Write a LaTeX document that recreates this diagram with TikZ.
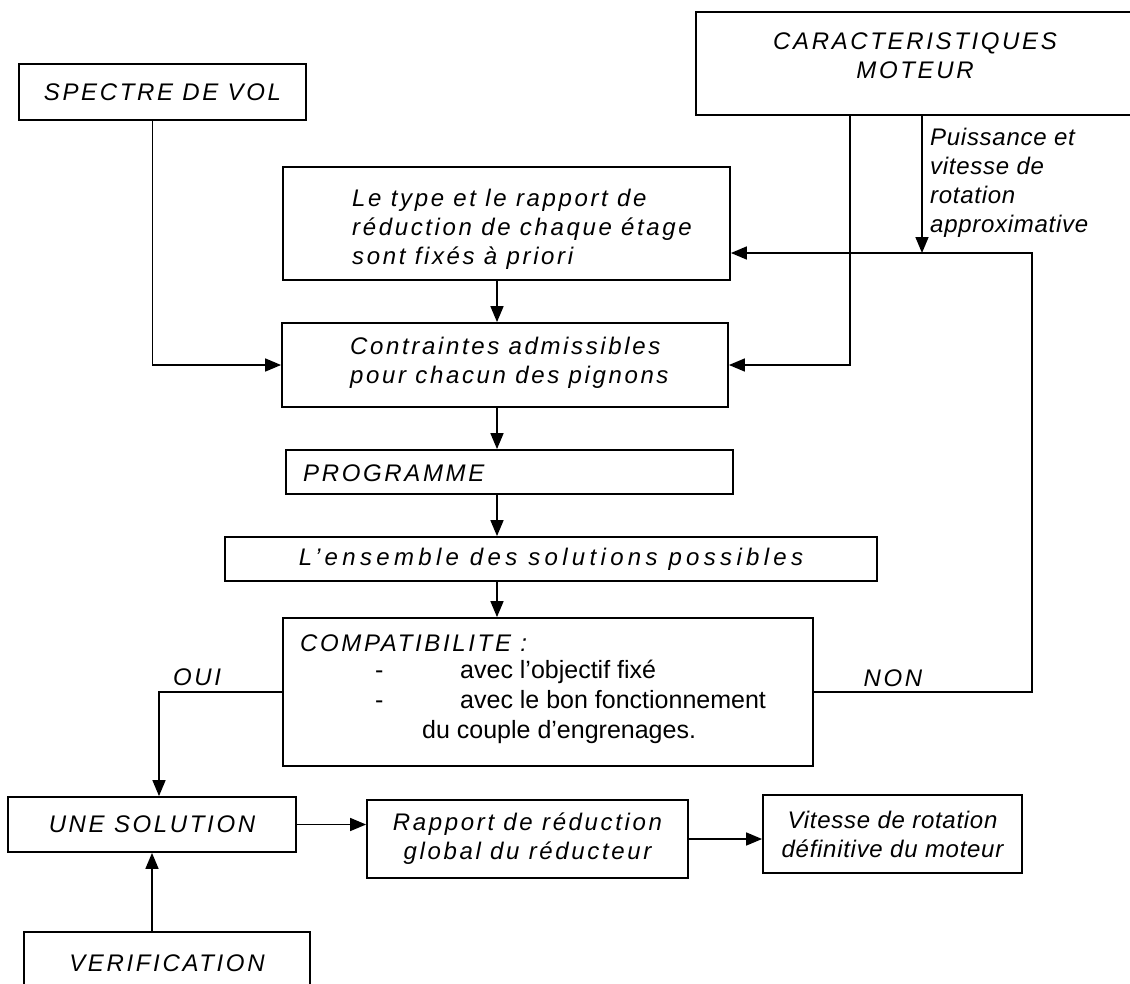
\documentclass[tikz,border=0pt]{standalone}
\usepackage{fontspec}
\setmainfont{Liberation Sans}
\newfontfamily\espace{Liberation Sans}[LetterSpace=11]
\newfontfamily\espacelarge{Liberation Sans}[LetterSpace=18]
\newfontfamily\espacepeu{Liberation Sans}[LetterSpace=3]
\usetikzlibrary{arrows.meta}

\begin{document}
\begin{tikzpicture}[x=1pt, y=-1pt,
  boite/.style={draw, line width=1.8pt, rectangle, inner sep=0pt},
  txt/.style={font=\espace\itshape\fontsize{24}{29}\selectfont, inner sep=0pt, align=center},
  txtpeu/.style={font=\espacepeu\itshape\fontsize{24}{29}\selectfont, inner sep=0pt, align=center},
  droit/.style={font=\fontsize{25}{29}\selectfont, inner sep=0pt},
  trait/.style={line width=1.6pt},
  fleche/.style={trait, -{Triangle[length=16pt, width=13pt]}}]
\useasboundingbox (0,0) rectangle (1130,983);

% --- colonnes des liaisons ---
\coordinate (axe) at (497,0);       % fleches centrales
\coordinate (descente) at (850,0);  % caracteristiques -> contraintes
\coordinate (puissance) at (922,0); % puissance et vitesse
\coordinate (retour) at (1032,0);   % boucle NON
\coordinate (niveau) at (0,253);    % entree dans "Le type"

% --- donnees d'entree ---
\node[boite, txt, minimum width=287, minimum height=56] (spectre) at (162.5,92) {SPECTRE DE VOL};
\node[boite, minimum width=438, minimum height=103] (moteur) at (915,63.5) {};
\node[txt] (moteur-t) at (915,56) {CARACTERISTIQUES\\MOTEUR};

% --- chaine centrale ---
\node[boite, minimum width=447, minimum height=113] (letype) at (506.5,223.5) {};
\node[txt, align=left, anchor=west] (letype-t) at (352,229)
  {Le type et le rapport de\\r\'eduction de chaque \'etage\\sont fix\'es \`a priori};
\node[boite, minimum width=446, minimum height=84] (contraintes) at (505,365) {};
\node[txt, align=left, anchor=west] (contraintes-t) at (350,363)
  {Contraintes admissibles\\pour chacun des pignons};
\node[boite, minimum width=447, minimum height=44] (programme) at (509.5,472) {};
\node[txt, anchor=west] (programme-t) at (303,473) {PROGRAMME};
\node[boite, font=\espacelarge\itshape\fontsize{24}{29}\selectfont, minimum width=652, minimum height=44]
  (ensemble) at (551,559) {L’ensemble des solutions possibles};

% --- test de compatibilite ---
\node[boite, minimum width=530, minimum height=148] (compat) at (548,692) {};
\node[txt, anchor=west] (compat-t) at (300,643) {COMPATIBILITE :};
\node[droit, anchor=west] (compat-a) at (375,672) {\makebox[85pt][l]{-}avec l’objectif fix\'e};
\node[droit, anchor=west] (compat-b) at (375,700) {\makebox[85pt][l]{-}avec le bon fonctionnement};
\node[droit, anchor=west] (compat-c) at (422,732) {du couple d’engrenages.};
\node[txt] (oui) at (197,677) {OUI};
\node[txt] (non) at (893,678) {NON};

% --- resultats ---
\node[boite, txt, minimum width=288, minimum height=55] (solution) at (152,824.5) {UNE SOLUTION};
\node[boite, txt, minimum width=321, minimum height=78] (rapport) at (527.5,839)
  {Rapport de r\'eduction\\global du r\'educteur};
\node[boite, txtpeu, minimum width=259, minimum height=78] (vitesse) at (892.5,834)
  {Vitesse de rotation\\d\'efinitive du moteur};
\node[boite, txt, minimum width=286, minimum height=63] (verif) at (167,963.5) {VERIFICATION};

\node[txtpeu, align=left, anchor=west] (puissance-t) at (930,183)
  {Puissance et\\vitesse de\\rotation\\approximative};

% --- liaisons ---
\draw[fleche] ([xshift=-10]spectre.south) |- (contraintes.west);
\draw[fleche] (moteur.south -| descente) |- (contraintes.east);
\draw[fleche] (moteur.south -| puissance) -- (puissance |- niveau);
\draw[fleche] (compat.east) -| (retour |- niveau) -- (letype.east |- niveau);
\draw[fleche] (letype.south -| axe) -- (contraintes.north -| axe);
\draw[fleche] (contraintes.south -| axe) -- (programme.north -| axe);
\draw[fleche] (programme.south -| axe) -- (ensemble.north -| axe);
\draw[fleche] (ensemble.south -| axe) -- (compat.north -| axe);
\draw[fleche] (compat.west) -| ([xshift=7]solution.north);
\draw[fleche] (solution.south |- verif.north) -- (solution.south);
\draw[fleche] (solution.east) -- (rapport.west |- solution.east);
\draw[fleche] (rapport.east) -- (vitesse.west |- rapport.east);
\end{tikzpicture}
\end{document}
